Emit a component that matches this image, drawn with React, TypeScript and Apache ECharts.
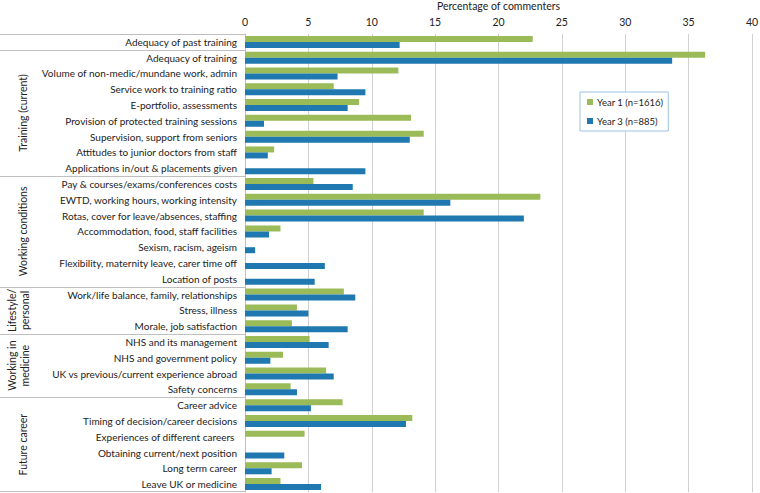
import React, { useEffect, useRef } from "react";
import * as echarts from "echarts";

const categories = [
  "Adequacy of past training",
  "Adequacy of training",
  "Volume of non-medic/mundane work, admin",
  "Service work to training ratio",
  "E-portfolio, assessments",
  "Provision of protected training sessions",
  "Supervision, support from seniors",
  "Attitudes to junior doctors from staff",
  "Applications in/out & placements given",
  "Pay & courses/exams/conferences costs",
  "EWTD, working hours, working intensity",
  "Rotas, cover for leave/absences, staffing",
  "Accommodation, food, staff facilities",
  "Sexism, racism, ageism",
  "Flexibility, maternity leave, carer time off",
  "Location of posts",
  "Work/life balance, family, relationships",
  "Stress, illness",
  "Morale, job satisfaction",
  "NHS and its management",
  "NHS and government policy",
  "UK vs previous/current experience abroad",
  "Safety concerns",
  "Career advice",
  "Timing of decision/career decisions",
  "Experiences of different careers ",
  "Obtaining current/next position",
  "Long term career",
  "Leave UK or medicine",
];

const year1 = [22.7, 36.3, 12.1, 7.0, 9.0, 13.1, 14.1, 2.3, 0, 5.4, 23.3, 14.1, 2.8, 0, 0, 0, 7.8, 4.1, 3.7, 5.1, 3.0, 6.4, 3.6, 7.7, 13.2, 4.7, 0, 4.5, 2.8];
const year3 = [12.2, 33.7, 7.3, 9.5, 8.1, 1.5, 13.0, 1.8, 9.5, 8.5, 16.2, 22.0, 1.9, 0.8, 6.3, 5.5, 8.7, 5.0, 8.1, 6.6, 2.0, 7.0, 4.1, 5.2, 12.7, 0, 3.1, 2.1, 6.0];

const seriesNames = ["Year 1 (n=1616)", "Year 3 (n=885)"];
const xTicks = { min: 0, max: 40, interval: 5 };

// groups: [label, first index, last index, x centre of text]
const groups: [string, number, number, number][] = [
  ["", 0, 0, 0],
  ["Training (current)", 1, 8, 23],
  ["Working conditions", 9, 15, 23],
  ["Lifestyle/\npersonal", 16, 18, 18],
  ["Working in\nmedicine", 19, 22, 18],
  ["Future career", 23, 28, 23],
];

const FONT = "Lato, 'Liberation Sans', sans-serif";
const GRID = { left: 245, right: 8, top: 34, bottom: 1 };
const W = 760;
const H = 493;

export default function App() {
  const ref = useRef<HTMLDivElement>(null);
  useEffect(() => {
    if (!ref.current) return;
    const chart = echarts.init(ref.current, undefined, { renderer: "svg" });
    const plotH = H - GRID.top - GRID.bottom;
    const band = plotH / categories.length;
    const graphics: any[] = [];
    const lineStyle = { stroke: "#BFBFBF", lineWidth: 1 };
    const yAt = (i: number) => Math.min(Math.round(GRID.top + i * band), H - 2) + 0.5;
    graphics.push({ type: "line", shape: { x1: 0, y1: yAt(0), x2: GRID.left, y2: yAt(0) }, style: lineStyle });
    groups.forEach(([label, a, b, cx]) => {
      graphics.push({ type: "line", shape: { x1: 0, y1: yAt(b + 1), x2: GRID.left, y2: yAt(b + 1) }, style: lineStyle });
      if (label) {
        const cy = GRID.top + ((a + b + 1) / 2) * band;
        graphics.push({
          type: "text",
          x: cx,
          y: cy,
          rotation: Math.PI / 2,
          style: {
            text: label,
            fill: "#222",
            font: `10.5px ${FONT}`,
            align: "center",
            verticalAlign: "middle",
            lineHeight: 13,
          },
        });
      }
    });
    chart.setOption({
      animation: false,
      backgroundColor: "#fff",
      textStyle: { fontFamily: FONT },
      grid: { ...GRID, containLabel: false, outerBoundsMode: "none" },
      legend: {
        orient: "vertical",
        left: 580,
        top: 92,
        data: seriesNames,
        icon: "rect",
        itemWidth: 6,
        itemHeight: 6,
        itemGap: 9,
        padding: [5, 5, 5, 7],
        borderColor: "#9DC3E6",
        borderWidth: 1,
        backgroundColor: "#fff",
        textStyle: { fontSize: 9.5, color: "#222", fontFamily: FONT, padding: [0, 0, 0, -1] },
      },
      xAxis: {
        type: "value",
        position: "top",
        min: xTicks.min,
        max: xTicks.max,
        interval: xTicks.interval,
        name: "Percentage of commenters",
        nameLocation: "middle",
        nameGap: 22,
        nameTextStyle: { fontSize: 10.5, color: "#222" },
        axisLine: { show: false },
        axisTick: { show: false },
        axisLabel: { fontSize: 10.5, color: "#222", margin: 7 },
        splitLine: { lineStyle: { color: "#D0D0D0" } },
      },
      yAxis: {
        type: "category",
        inverse: true,
        data: categories,
        axisLine: { show: true, lineStyle: { color: "#BFBFBF" } },
        axisTick: { show: false },
        axisLabel: { fontSize: 10, color: "#222", margin: 8, interval: 0 },
      },
      series: [
        { name: seriesNames[0], type: "bar", data: year1, barWidth: 6, barGap: "0%", itemStyle: { color: "#9BBB59" } },
        { name: seriesNames[1], type: "bar", data: year3, barWidth: 6, barGap: "0%", itemStyle: { color: "#1F78B0" } },
      ],
      graphic: graphics,
    });
    return () => chart.dispose();
  }, []);
  return <div ref={ref} style={{ width: W, height: H, position: "absolute", left: 0, top: 0 }} />;
}
